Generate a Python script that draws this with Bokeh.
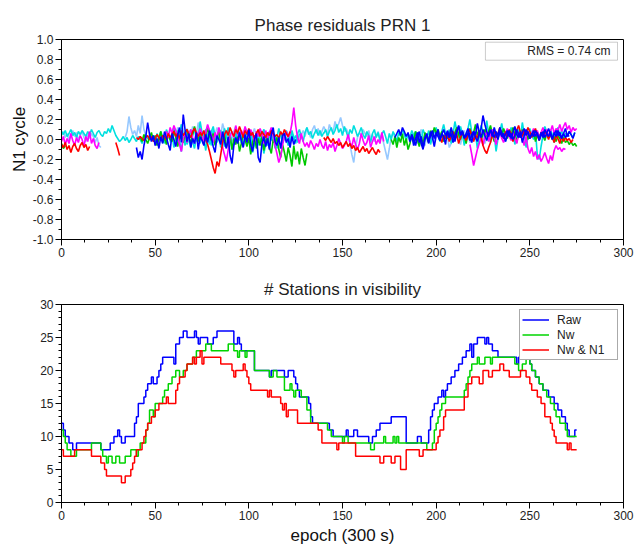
import numpy as np
from bokeh.plotting import figure
from bokeh.layouts import column
from bokeh.models import (Range1d, SingleIntervalTicker, PrintfTickFormatter,
                          Label, BoxAnnotation)
from bokeh.embed import file_html
from bokeh.resources import INLINE

# ---------------- data: phase residual arcs (start epoch, values in 0.01 cycle) -------------
lightblue_1_start = 0
lightblue_1 = [4, 8, 2, 6, -1, 5, 9, 3, 7, 0, 4, 8, 2, -2, 5, 1, 6, 3, -3, 2, -6, -8]
lightblue_2_start = 34
lightblue_2 = [2, 8, 23, 12, 5, 9, 3, 14, 6, 24, 10, 4]
lightblue_3_start = 128
lightblue_3 = [5, 9, 3, 12, 7, 2, 10, 14, 6, 11, 4, 8, 13, 9, 5, 15, 10, 7, 18, 12, 16, 22,
               14, 8, 11, 6, -5, -15, -23, -8, 2, 7, 4, 10, 6, 3, 9, 1, 5, -2, 4, 8, 0, 6,
               -4, -12, -20, -9, 3, 6, 2]
lightblue_4_start = 185
lightblue_4 = [3, -2, 6, 1, 8, -4, 4, 10, 2, -6, 5, 0, 7, 3, -3, 9, 4, 1, 6, -2, 8, 3, -8,
               -4, 5, 2, 7, 0, -5, 4, 9, 1, 6, -3, 3, 8, 2, -1, 5, 10, 4, -4, 2, 7, 1]
lightblue_5_start = 60
lightblue_5 = [8, 3, 12, 6, 15, 9, 4, 11, 7, 2, 13, 8, 5, 17, 10, 6, 3, 9, 14, 7, 1, 10, 5,
               12, 8, 4, 16, 9, 3, 11, 6, -2, 8, 13, 5, 10, 2, 7, 12, 4, 9, 1, 6, 11, 3, 8,
               -1, 5, 10, 4]

cyan_1_start = 0
cyan_1 = [8, 5, 9, 3, 6, 10, 4, 7, 2, 8, 5, 9, 6, 3, 8, 4, 10, 6, 2, 7, 9, 5, 3, 8, 6, 11,
          7, 14, 9, 4, 1, -2, 0, 3, -1, 2, -3, 0, 4, 1, -2, 3, 0, -4, 2, 5, 1, -1]
cyan_2_start = 48
cyan_2 = [1, 4, -2, 6, 0, 8, 3, -4, 10, 5, -1, 7, 12, 2, -3, 6, 15, 4, -6, 9, 1, -8, 5, 11,
          -2, 3, 18, 7, -1, 10, 4, -5, 8, 13, 2, -3, 6, 9, 0, -7, 4, 12, 5, -10, -3, 6, 1,
          8, -4, 3, 10, -2, 5, -12, 7, 0, 4, -6, 9, 2, -14, -5, 3, 8, -1, 6, -9, 2, 11, 4,
          -3, 7, 1, -6, 5, 9, 2, -4, 6, 10, 3, -2, 7, 12, 5, 8, 1, 6, 10, 4, 9, 3, 7]
cyan_3_start = 140
cyan_3 = [6, 10, 3, 8, 12, 5, 9, 15, 7, 11, 4, 13, 8, 2, 10, 6, 14, 9, 3, 7, 12, 5, 1, 8,
          4, -3, 6, 10, 2, 7, -1, 5, 9, 3, -4, 6, 0, 8, 4, -2, 7, 3, 10, 5, -1, 6, 2, 9, 4,
          0, 7, 3, 5]
cyan_4_start = 188
cyan_4 = [4, 8, 1, 6, -3, 10, 5, 2, 9, -5, 3, 7, 12, 4, -2, 8, 15, 6, 1, 10, -4, 5, 18, 9,
          2, 13, 6, -6, 4, 11, 20, 7, 0, 5, -9, 3, 14, 8, 2, 19, 6, -3, 10, 4, -12, 1, 8,
          16, 5, -2, 9, 3, 12, 7, -5, 4, 10, 2, 17, 6, -8, 3, 11, 5, 0, 9, -16, -20, -7, 4,
          13, 8, 2, 10, 5, -3, 7, 12, 4, 9, 1, 6, 3, 8, 5, 2, 7]
cyan_5_start = 58
cyan_5 = [-3, 5, -8, 2, 9, -1, -12, 4, 7, -5, 1, 10, -2, -9, 3, 6, -4, 8, 0, -11, 5, 2, -6,
          9, 3, -2, 7, -8, 1, 11, 4, -3, 6, -10, -4, 2, 8, -1, 5, -7, 3, 9, -2, 6, -13, -5,
          1, 7, -3, 4, 10, 0, -6, 3, 8, -2, 5, -9, 2, 6, -4, 1, 9, 3, -5, 7, 0, 4, -3, 6]

green_1_start = 0
green_1 = [-4, -9, -6]
green_2_start = 42
green_2 = [3, -2, 5, 0, -4, 2, 7, -1, 4, -6, 1, 8, -3, 2, -5, 6, 0, -2, 9, 3, -7, 1, 4, -3,
           7, 10, 2, -4, 5, 13, 6, -2, 8, 1, -5, 3, 12, 4, -1, 6, -6, 2, 9, -3, 0, 5, -8,
           -2, 4, -10, 1, -5, 3, -12, -4, 6, 0, -7, 2, -15, -3, 4, -9, 1, -6, 3, -11, -2, 5,
           -8, -14, 0, -4, 2, -10, -18, -5, -13, -22, -8, -16, -27, -6, -20, -12, -25, -9,
           -18, -26, -14]
green_3_start = 176
green_3 = [0, -5, 3, -8, 2, -3, 6, -6, 1, -10, -4, 5, -2, 8, 0, -7, 3, -5, 7, 2, -3, 9, 4,
           12, 6, 10, 3, 8, -2, 5, 1, 4, 9, 2, 7, 12, 5, 0, 8, 3, -4, 6, 11, 2, 7, 15, 4, 9,
           -1, 6, 10, 3, 8, 14, 5, -2, 7, 2, 9, 4, 11, 6, 1, 8, 3, 12, 5, -3, 7, 2, 10, 4, 8,
           0, 6, 3, 9, -2, 5, 1, 7, 4, -1, 6, 2, 5, 0, 3, -2, 4, 1, -4, 2, -3, -1, -5, -2,
           -6, -4, -7]

magenta_1_start = 0
magenta_1 = [-2, 3, -5, 1, -4, 6, -1, -6, 2, -3, 4, 0, -7, 3, -2, 8, -4, 1, -6, -9, -3]
magenta_2_start = 55
magenta_2 = [4, 8, 2, 12, 6, 14, 9, 3, -5, -12, 1, 7, -3, 5, 10, 2, -4, 8, 3, 11, 5, -2, 6,
             15, 9, 4, -3, 7, 1, 12, 5, -8, -15, -22, -10, 3, 8, 2, 14, 6, 0, 9, 4, 13, 7, 2,
             10, 5, -2, 8, 3, 11, 6, -4, 9, 1, 7, 12, 4, -6, -14, -23, -17, -5, 3, 8, 2, 6,
             16, 32, 14, 2, -4, 6, -2, -7, -3, -8, -1, -5, -10, -4, -7, 0, -6, -9, -2, -11,
             -5, -8, -3, -12, -6, 1, -4, -9, -6, -2, 5, -3, -7, 2, -5, -10, -4, 6, -1, -6,
             -3, 4, -8, -2, 3, -5, 0, -4, 7, -2]
magenta_3_start = 218
magenta_3 = [-5, -15, -26, -18, -10, -4, 2, -6, 3, 8, -2, 5, 10, 2, -5, 4, 9, 1, -3, 6, 11,
             3, -1, 7, 2, -4, 5, 9, 0, -6, 3, -9, -14, -8, -17, -12, -20, -15, -22, -18,
             -13, -19, -24, -16, -21, -11, -6, -10, -8, -12, -9, -10]
magenta_4_start = 248
magenta_4 = [3, 8, 1, 6, 11, 4, 9, 2, 7, 12, 5, 10, 3, 8, 14, 6, 11, 9, 15, 8, 13, 17, 10,
             14, 7, 12, 9, 11]

red_1_start = 0
red_1 = [-5, -8, -3, -10, -6, -13, -7, -4, -9, -12, -6, -3, -8, -5, -11, -7]
red_2_start = 29
red_2 = [-3, -9, -16]
red_3_start = 40
red_3 = [2, 0, 3, 1, -1, 2, 4, 0, 3, -2, 1, 5, 2, -1, 4, 3, 0, 6, 2, 5, 8, 3, 6, 1, 9, 4,
         7, 10, 5, 2, 8, 11, 6, 3, 7, 4, 9, 0, -5, -12, -20, -28, -34, -22, -27, -15, -3,
         5, 9, 4, 12, 7, 3, 10, 6, 13, 8, 2, 9, 5, 11, 4, 7, 1, 6, 10, 3, 8, 5, 2, 7, 4, 9,
         6, 3, 5, 1, 8, 4, 10, 6, 3, 8]
red_4_start = 140
red_4 = [2, -1, 3, 0, -3, 1, -4, -2, -6, -3, -8, -5, -2, -7, -4, -9, -6, -11, -8, -13, -10,
         -7, -12, -9, -14, -11, -8, -12, -15, -10, -13]
red_5_start = 202
red_5 = [2, -3, 4, 1, 6, -2, 3, 8, 0, 5, -4, 2, 7, 3, -1, 6, 10, 4, -2, 5, 1, 8, 3, -6, -11,
         -14, -8, -3, 4, 9, 2, 6, 12, 5, 1, 8, 3, 10, 6, -2, 4, 9, 14, 7, 3, 10, 5, 12, 8,
         2, 6, 11, 4, -1, 7, 3, 9, 5, 0, 6, 2, -3, 4, 1, -4, 3, -2, 2, -1, 1, -3, 0]

blue_1_start = 40
blue_1 = [-8, -18, -12, -20, -6, 3, 17, 5, -2, 4, -6, 1, -9, 3, -4, 8, 2, -5, -11, 6, 0, -7,
          4, 12, -3, 25, 9, -2, 6, -8, 1, -4, 7, -10, 3, -1, -6, 5, -3, 9, 2, -7, -13, 4, 0,
          -5, 8, -2, -9, 3, -16, -24, -6, 2, -4, 7, -1, -8, 5, -3, 10, -5, -12, 0, 6, -18,
          -23, -4, 3, -7, 1, -10, 5, 12, -2, -6, 2, -9, 4, 6, -3, 1, -8, 3, -5, 0]
blue_2_start = 178
blue_2 = [2, 6, 10, 4, 12, 8, 3, 7, -2, 5, 0, -6, 3, 8, -4, -10, 2, 6, -3, 4, 9, 1, 7, 3,
          -1, 5, 10, 4, 8, 2, 6, -3, 4, 9, 13, 5, 7, 2, 3, 7, -1, 5, 8, 2, -2, 6, 11, 24,
          15, 8, 3, 10, 6, 2, 8, 4, 12, 7, 1, 5, 9, 3, 6, 0, 4, 10, 5, 2, 7, 11, 4, 8, 1, 6,
          3, 9, 5, 0, 7, 2, 10, 6, 3, 8, 1, 5, 9, 4, 7, 2, 6, 11, 3, 8, 5, 1, 7]
blue_3_start = 186
blue_3 = [-2, 4, -6, 1, 7, -3, 3, -9, 0, 5, -4, 8, 2, -7, 4, 10, -1, 6, 3, -5, 9, 2, 12, 5,
          -2, 7, 14, 4, 9, 1, 6, 11, 3, -3, 8, 5, 16, 7, 2, 10, 4, -1, 6, 9, 3, 12, 5, 0, 8,
          3, 6, -2, 4, 9, 1, 7, 13, 5, 2, 8, -3, 4, 10, 6, 1, 5, 9, 3, 7, -1, 4, 8, 2, 6, 11,
          5, 0, 7, 3, 9, 4, 1, 6, 2, 5, 3]

rms_text = "RMS = 0.74 cm"

# ---------------- data: stations in visibility (epoch where count changes, count) ----------
raw_epoch = [0, 1, 2, 4, 6, 8, 21, 26, 28, 30, 31, 32, 34, 39, 40, 41, 44, 45, 46, 48, 49,
             51, 52, 53, 54, 60, 61, 63, 65, 67, 71, 72, 73, 74, 78, 81, 83, 92, 94, 95, 96,
             103, 111, 112, 119, 121, 124, 125, 126, 127, 132, 133, 134, 143, 145, 152, 153,
             156, 158, 164, 166, 168, 170, 176, 184, 190, 192, 196, 197, 198, 199, 201, 203,
             204, 205, 206, 208, 210, 212, 214, 216, 218, 219, 220, 222, 226, 227, 228, 230,
             233, 243, 244, 250, 251, 253, 255, 257, 260, 263, 265, 267, 269, 270, 271, 274,
             275]
raw_count = [12, 11, 10, 9, 8, 9, 8, 9, 10, 11, 10, 9, 10, 12, 13, 15, 16, 17, 18, 19, 18,
             19, 20, 21, 22, 21, 24, 25, 26, 25, 26, 25, 24, 25, 24, 25, 26, 24, 25, 24, 23,
             20, 19, 20, 19, 20, 19, 18, 17, 16, 15, 13, 12, 11, 10, 11, 10,
             11, 10, 9, 10, 11, 12, 13, 9, 10, 9, 11, 13, 14, 15, 16, 17,
             16, 17, 18, 19, 20, 21, 22, 23, 24, 22, 24, 25, 24, 25, 24, 23,
             22, 21, 22, 21, 20, 19, 18, 17, 16, 15, 14, 13, 12, 11, 10, 11,
             11]

nw_epoch = [0, 1, 2, 3, 5, 8, 16, 21, 22, 24, 25, 27, 29, 31, 34, 37, 40, 41, 42, 45, 46,
            47, 49, 50, 54, 55, 57, 59, 61, 63, 65, 67, 70, 72, 77, 80, 89, 92, 94, 95, 98,
            99, 103, 111, 113, 115, 119, 122, 123, 124, 125, 128, 131, 133, 142, 144, 150,
            151, 153, 165, 167, 172, 173, 177, 178, 179, 180, 195, 198, 199, 200, 201, 202,
            203, 205, 215, 216, 217, 218, 219, 222, 223, 226, 229, 230, 242, 244, 246, 248,
            250, 251, 253, 255, 257, 259, 261, 263, 264, 266, 269, 270, 275]
nw_count = [11, 10, 9, 8, 7, 8, 9, 8, 7, 6, 7, 6, 7, 6, 7, 8, 7, 8, 9, 11, 12,
            14, 13, 15, 16, 17, 18, 19, 20, 19, 20, 21, 22, 23, 24, 23, 24, 23, 22, 23, 22,
            23, 20, 19, 20, 19, 17, 18, 17, 16, 17, 16, 14, 12, 11, 10, 9,
            10, 9, 8, 9, 10, 9, 10, 9, 10, 9, 8, 9, 11, 12, 13, 14,
            15, 16, 17, 18, 19, 20, 21, 22, 21, 22, 21, 22, 21, 20, 21, 22,
            21, 20, 19, 18, 17, 16, 15, 14, 13, 12, 11, 10, 10]

n1_epoch = [0, 1, 7, 16, 21, 23, 24, 32, 34, 37, 38, 39, 40, 43, 44, 45, 46, 48, 50, 52, 56,
            57, 61, 62, 63, 66, 67, 70, 71, 72, 74, 75, 76, 85, 91, 92, 93, 97, 98, 99, 100,
            101, 110, 111, 112, 117, 118, 119, 120, 121, 126, 137, 139, 147, 148, 157, 170,
            172, 176, 178, 181, 184, 191, 193, 200, 201, 202, 204, 205, 215, 217, 219, 223,
            225, 228, 230, 234, 236, 239, 245, 248, 250, 251, 254, 256, 258, 261, 262, 263,
            264, 270, 271, 272, 275]
n1_count = [8, 7, 8, 7, 6, 5, 4, 3, 4, 5, 6, 7, 8, 9, 10, 11, 12, 13, 14, 15, 16,
            15, 17, 18, 19, 20, 21, 22, 21, 22, 23, 21, 22, 21, 20, 19, 20, 21, 20, 19, 18,
            17, 16, 17, 16, 15, 14, 15, 13, 14, 12, 11, 9, 8, 9, 7, 6,
            7, 6, 7, 5, 8, 7, 8, 9, 10, 11, 13, 14, 16, 18, 19, 18,
            20, 19, 20, 21, 20, 19, 20, 19, 18, 17, 16, 15, 13, 12, 11, 10,
            9, 8, 9, 8, 8]

FONT = "Liberation Sans"


def style_axis(ax):
    ax.axis_line_color = "black"
    ax.major_tick_line_color = "black"
    ax.minor_tick_line_color = "black"
    ax.major_tick_out = 6
    ax.major_tick_in = 0
    ax.minor_tick_out = 3
    ax.minor_tick_in = 0
    ax.major_label_text_font = FONT
    ax.major_label_text_font_size = "12px"
    ax.major_label_text_color = "#222222"
    ax.major_label_standoff = 2
    ax.axis_label_text_font = FONT
    ax.axis_label_text_font_size = "17px"
    ax.axis_label_text_font_style = "normal"
    ax.axis_label_text_color = "#111111"


def style_fig(p, standoff):
    p.outline_line_color = "black"
    p.outline_line_alpha = 1.0
    p.xgrid.visible = False
    p.ygrid.visible = False
    p.title.align = "center"
    p.title.text_font = FONT
    p.title.text_font_size = "17px"
    p.title.text_font_style = "normal"
    p.title.text_color = "#222222"
    p.title.standoff = standoff
    p.background_fill_color = "white"
    p.border_fill_color = "white"


# ---------------- top figure ----------------
p1 = figure(width=634, height=262, x_range=Range1d(0, 300), y_range=Range1d(-1, 1),
            output_backend="svg", toolbar_location=None,
            min_border_left=61, min_border_right=11, min_border_top=39, min_border_bottom=23,
            title="Phase residuals PRN 1")
style_fig(p1, 10)
p1.xaxis.ticker = SingleIntervalTicker(interval=50, num_minor_ticks=4)
p1.yaxis.ticker = SingleIntervalTicker(interval=0.2, num_minor_ticks=2)
p1.yaxis.formatter = PrintfTickFormatter(format="%.1f")
p1.yaxis.axis_label = "N1 cycle"
style_axis(p1.xaxis[0])
style_axis(p1.yaxis[0])
p1.yaxis.axis_label_standoff = 1

arcs = [
    ("#96c8ff", lightblue_1_start, lightblue_1),
    ("#96c8ff", lightblue_2_start, lightblue_2),
    ("#96c8ff", lightblue_3_start, lightblue_3),
    ("#96c8ff", lightblue_4_start, lightblue_4),
    ("#96c8ff", lightblue_5_start, lightblue_5),
    ("#00e0e0", cyan_1_start, cyan_1),
    ("#00e0e0", cyan_2_start, cyan_2),
    ("#00e0e0", cyan_3_start, cyan_3),
    ("#00e0e0", cyan_4_start, cyan_4),
    ("#00e0e0", cyan_5_start, cyan_5),
    ("#00c800", green_1_start, green_1),
    ("#00c800", green_2_start, green_2),
    ("#00c800", green_3_start, green_3),
    ("#ff00ff", magenta_1_start, magenta_1),
    ("#ff00ff", magenta_2_start, magenta_2),
    ("#ff00ff", magenta_3_start, magenta_3),
    ("#ff00ff", magenta_4_start, magenta_4),
    ("#ff0000", red_1_start, red_1),
    ("#ff0000", red_2_start, red_2),
    ("#ff0000", red_3_start, red_3),
    ("#ff0000", red_4_start, red_4),
    ("#ff0000", red_5_start, red_5),
    ("#0000ff", blue_1_start, blue_1),
    ("#0000ff", blue_2_start, blue_2),
    ("#0000ff", blue_3_start, blue_3),
]
for color, start, vals in arcs:
    xs = start + np.arange(len(vals))
    ys = np.array(vals, dtype=float) / 100.0
    p1.line(xs, ys, line_color=color, line_width=1.6)

box = BoxAnnotation(left=226.3, right=296.8, top=0.973, bottom=0.793,
                    fill_color="white", fill_alpha=1.0, line_color="#555555", line_width=1)
p1.add_layout(box)
p1.add_layout(Label(x=293, y=0.883, text=rms_text, text_align="right", text_baseline="middle",
                    text_font=FONT, text_font_size="12px", text_color="#222222"))

# ---------------- bottom figure ----------------
p2 = figure(width=634, height=286, x_range=Range1d(0, 300), y_range=Range1d(0, 30),
            output_backend="svg", toolbar_location=None,
            min_border_left=61, min_border_right=11, min_border_top=42, min_border_bottom=46,
            title="# Stations in visibility")
style_fig(p2, 12)
p2.xaxis.ticker = SingleIntervalTicker(interval=50, num_minor_ticks=4)
p2.yaxis.ticker = SingleIntervalTicker(interval=5, num_minor_ticks=5)
p2.xaxis.axis_label = "epoch (300 s)"
style_axis(p2.xaxis[0])
style_axis(p2.yaxis[0])
p2.xaxis.axis_label_standoff = 3

p2.step(raw_epoch, raw_count, mode="after", line_color="#0000ff", line_width=1.5,
        legend_label="Raw")
p2.step(nw_epoch, nw_count, mode="after", line_color="#00d400", line_width=1.5,
        legend_label="Nw")
p2.step(n1_epoch, n1_count, mode="after", line_color="#ff0000", line_width=1.5,
        legend_label="Nw & N1")

lg = p2.legend[0]
lg.location = "top_right"
lg.margin = 5
lg.padding = 2
lg.spacing = 0
lg.label_height = 15
lg.glyph_height = 15
lg.glyph_width = 27
lg.label_standoff = 8
lg.label_width = 58
lg.label_text_font = FONT
lg.label_text_font_size = "12px"
lg.label_text_color = "#222222"
lg.border_line_color = "#555555"
lg.border_line_width = 1
lg.background_fill_alpha = 1.0

layout = column(p1, p2, spacing=0)
open("out.html", "w").write(file_html(layout, INLINE))
